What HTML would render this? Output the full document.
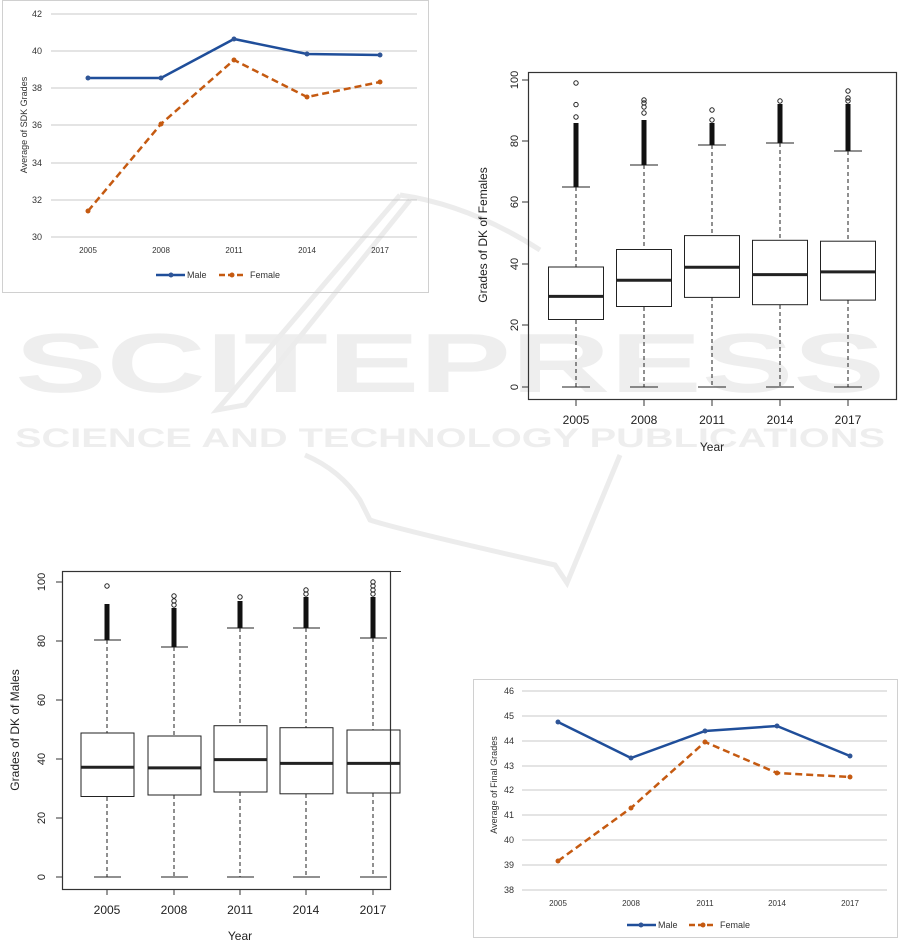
<!DOCTYPE html>
<html><head><meta charset="utf-8"><style>
html,body{margin:0;padding:0;background:#fff;}
svg{display:block;font-family:"Liberation Sans",sans-serif;}
</style></head><body>
<svg width="901" height="945" viewBox="0 0 901 945" xmlns="http://www.w3.org/2000/svg">
<!-- watermark -->
<g fill="#eeeeee" stroke="none">
<text x="15" y="392" font-size="84" font-weight="bold" textLength="870" lengthAdjust="spacingAndGlyphs">SCITEPRESS</text>
<text x="15" y="447" font-size="27" font-weight="bold" textLength="870" lengthAdjust="spacingAndGlyphs">SCIENCE AND TECHNOLOGY PUBLICATIONS</text>
</g>
<g fill="none" stroke="#ececec" stroke-width="5">
<path d="M400 195 L217 410 L245 405 L410 200"/>
<path d="M305 455 Q340 470 360 500 L370 520 Q400 530 555 565 L567 583 L620 455"/>
<path d="M400 195 Q470 205 540 250"/>
</g>

<!-- Chart 1 -->
<rect x="2.5" y="0.5" width="426" height="292" fill="none" stroke="#d0d0d0"/>
<g stroke="#c8c8c8" stroke-width="1">
<line x1="51" x2="417" y1="14" y2="14"/><line x1="51" x2="417" y1="51" y2="51"/><line x1="51" x2="417" y1="88" y2="88"/><line x1="51" x2="417" y1="125" y2="125"/><line x1="51" x2="417" y1="163" y2="163"/><line x1="51" x2="417" y1="200" y2="200"/><line x1="51" x2="417" y1="237" y2="237"/>
</g>
<g font-size="9" fill="#333" text-anchor="end">
<text x="42" y="17">42</text><text x="42" y="54">40</text><text x="42" y="91">38</text><text x="42" y="128">36</text><text x="42" y="166">34</text><text x="42" y="203">32</text><text x="42" y="240">30</text>
</g>
<g font-size="8" fill="#333" text-anchor="middle">
<text x="88" y="253">2005</text><text x="161" y="253">2008</text><text x="234" y="253">2011</text><text x="307" y="253">2014</text><text x="380" y="253">2017</text>
</g>
<text transform="translate(27,125) rotate(-90)" font-size="9" fill="#333" text-anchor="middle">Average of SDK Grades</text>
<polyline points="88,78 161,78 234,39 307,54 380,55" fill="none" stroke="#1f4e9a" stroke-width="2.5"/>
<polyline points="88,211 161,124 234,60 307,97 380,82" fill="none" stroke="#c55a11" stroke-width="2.5" stroke-dasharray="7,4"/>
<g fill="#2f5597"><circle cx="88" cy="78" r="2.5"/><circle cx="161" cy="78" r="2.5"/><circle cx="234" cy="39" r="2.5"/><circle cx="307" cy="54" r="2.5"/><circle cx="380" cy="55" r="2.5"/></g>
<g fill="#c55a11"><circle cx="88" cy="211" r="2.5"/><circle cx="161" cy="124" r="2.5"/><circle cx="234" cy="60" r="2.5"/><circle cx="307" cy="97" r="2.5"/><circle cx="380" cy="82" r="2.5"/></g>
<line x1="156" x2="185" y1="275" y2="275" stroke="#1f4e9a" stroke-width="2.5"/><circle cx="171" cy="275" r="2.5" fill="#2f5597"/>
<text x="187" y="278" font-size="9" fill="#333">Male</text>
<line x1="219" x2="246" y1="275" y2="275" stroke="#c55a11" stroke-width="2.5" stroke-dasharray="6,3"/><circle cx="232" cy="275" r="2.5" fill="#c55a11"/>
<text x="250" y="278" font-size="9" fill="#333">Female</text>

<!-- Chart 2 boxplot females -->
<rect x="528.5" y="72.5" width="368" height="327" fill="none" stroke="#333" stroke-width="1.2"/>
<g stroke="#333" stroke-width="1">
<line x1="522" x2="528" y1="80" y2="80"/><line x1="522" x2="528" y1="141" y2="141"/><line x1="522" x2="528" y1="202" y2="202"/><line x1="522" x2="528" y1="264" y2="264"/><line x1="522" x2="528" y1="325" y2="325"/><line x1="522" x2="528" y1="387" y2="387"/>
<line x1="576" x2="576" y1="400" y2="406"/><line x1="644" x2="644" y1="400" y2="406"/><line x1="712" x2="712" y1="400" y2="406"/><line x1="780" x2="780" y1="400" y2="406"/><line x1="848" x2="848" y1="400" y2="406"/>
</g>
<g font-size="11" fill="#222" text-anchor="middle">
<text transform="translate(518,80) rotate(-90)">100</text><text transform="translate(518,141) rotate(-90)">80</text><text transform="translate(518,202) rotate(-90)">60</text><text transform="translate(518,264) rotate(-90)">40</text><text transform="translate(518,325) rotate(-90)">20</text><text transform="translate(518,387) rotate(-90)">0</text>
<text x="576" y="424" font-size="12">2005</text><text x="644" y="424" font-size="12">2008</text><text x="712" y="424" font-size="12">2011</text><text x="780" y="424" font-size="12">2014</text><text x="848" y="424" font-size="12">2017</text>
<text x="712" y="451" font-size="12">Year</text>
<text transform="translate(487,235) rotate(-90)" font-size="12">Grades of DK of Females</text>
</g>
<g stroke="#222" fill="none" stroke-width="1">
<g stroke-dasharray="4,3"><line x1="576" x2="576" y1="187" y2="267"/><line x1="576" x2="576" y1="320" y2="387"/>
<line x1="644" x2="644" y1="165" y2="250"/><line x1="644" x2="644" y1="307" y2="387"/>
<line x1="712" x2="712" y1="145" y2="236"/><line x1="712" x2="712" y1="297" y2="387"/>
<line x1="780" x2="780" y1="143" y2="240"/><line x1="780" x2="780" y1="305" y2="387"/>
<line x1="848" x2="848" y1="151" y2="241"/><line x1="848" x2="848" y1="300" y2="387"/></g>
<line x1="562" x2="590" y1="187" y2="187"/><line x1="562" x2="590" y1="387" y2="387"/>
<line x1="630" x2="658" y1="165" y2="165"/><line x1="630" x2="658" y1="387" y2="387"/>
<line x1="698" x2="726" y1="145" y2="145"/><line x1="698" x2="726" y1="387" y2="387"/>
<line x1="766" x2="794" y1="143" y2="143"/><line x1="766" x2="794" y1="387" y2="387"/>
<line x1="834" x2="862" y1="151" y2="151"/><line x1="834" x2="862" y1="387" y2="387"/>
<rect x="548.5" y="267" width="55" height="52.5"/><rect x="616.5" y="249.5" width="55" height="57"/><rect x="684.5" y="235.6" width="55" height="61.8"/><rect x="752.5" y="240.3" width="55" height="64.4"/><rect x="820.5" y="241.2" width="55" height="58.9"/>
<g stroke-width="3"><line x1="548.5" x2="603.5" y1="296.4" y2="296.4"/><line x1="616.5" x2="671.5" y1="280.2" y2="280.2"/><line x1="684.5" x2="739.5" y1="267.3" y2="267.3"/><line x1="752.5" x2="807.5" y1="274.6" y2="274.6"/><line x1="820.5" x2="875.5" y1="271.9" y2="271.9"/></g>
<g stroke-width="1"><circle cx="576" cy="117" r="2.2"/><circle cx="576" cy="104.6" r="2.2"/><circle cx="576" cy="83" r="2.2"/>
<circle cx="644" cy="113" r="2.2"/><circle cx="644" cy="107" r="2.2"/><circle cx="644" cy="103" r="2.2"/><circle cx="644" cy="100" r="2.2"/>
<circle cx="712" cy="120" r="2.2"/><circle cx="712" cy="110" r="2.2"/><circle cx="780" cy="101" r="2.2"/>
<circle cx="848" cy="101" r="2.2"/><circle cx="848" cy="98" r="2.2"/><circle cx="848" cy="91" r="2.2"/></g>
</g>
<g fill="#111"><rect x="573.5" y="123" width="5" height="64"/><rect x="641.5" y="120" width="5" height="45"/><rect x="709.5" y="123" width="5" height="22"/><rect x="777.5" y="104" width="5" height="39"/><rect x="845.5" y="104" width="5" height="47"/></g>

<!-- Chart 3 boxplot males -->
<rect x="62.5" y="571.5" width="328" height="318" fill="none" stroke="#333" stroke-width="1.2"/>
<g stroke="#333" stroke-width="1">
<line x1="56" x2="62" y1="582" y2="582"/><line x1="56" x2="62" y1="641" y2="641"/><line x1="56" x2="62" y1="700" y2="700"/><line x1="56" x2="62" y1="759" y2="759"/><line x1="56" x2="62" y1="818" y2="818"/><line x1="56" x2="62" y1="877" y2="877"/>
<line x1="107" x2="107" y1="889" y2="895"/><line x1="174" x2="174" y1="889" y2="895"/><line x1="240" x2="240" y1="889" y2="895"/><line x1="306" x2="306" y1="889" y2="895"/><line x1="373" x2="373" y1="889" y2="895"/>
</g>
<g font-size="11" fill="#222" text-anchor="middle">
<text transform="translate(45,582) rotate(-90)">100</text><text transform="translate(45,641) rotate(-90)">80</text><text transform="translate(45,700) rotate(-90)">60</text><text transform="translate(45,759) rotate(-90)">40</text><text transform="translate(45,818) rotate(-90)">20</text><text transform="translate(45,877) rotate(-90)">0</text>
<text x="107" y="914" font-size="12">2005</text><text x="174" y="914" font-size="12">2008</text><text x="240" y="914" font-size="12">2011</text><text x="306" y="914" font-size="12">2014</text><text x="373" y="914" font-size="12">2017</text>
<text x="240" y="940" font-size="12">Year</text>
<text transform="translate(19,730) rotate(-90)" font-size="12">Grades of DK of Males</text>
</g>
<g stroke="#222" fill="none" stroke-width="1">
<g stroke-dasharray="4,3"><line x1="107" x2="107" y1="640" y2="733"/><line x1="107" x2="107" y1="797" y2="877"/>
<line x1="174" x2="174" y1="647" y2="736"/><line x1="174" x2="174" y1="795" y2="877"/>
<line x1="240" x2="240" y1="628" y2="726"/><line x1="240" x2="240" y1="792" y2="877"/>
<line x1="306" x2="306" y1="628" y2="728"/><line x1="306" x2="306" y1="794" y2="877"/>
<line x1="373" x2="373" y1="638" y2="730"/><line x1="373" x2="373" y1="793" y2="877"/></g>
<line x1="94" x2="121" y1="640" y2="640"/><line x1="94" x2="121" y1="877" y2="877"/>
<line x1="161" x2="188" y1="647" y2="647"/><line x1="161" x2="188" y1="877" y2="877"/>
<line x1="227" x2="254" y1="628" y2="628"/><line x1="227" x2="254" y1="877" y2="877"/>
<line x1="293" x2="320" y1="628" y2="628"/><line x1="293" x2="320" y1="877" y2="877"/>
<line x1="360" x2="387" y1="638" y2="638"/><line x1="360" x2="387" y1="877" y2="877"/>
<rect x="81" y="733" width="53" height="63.5"/><rect x="148" y="736" width="53" height="59"/><rect x="214" y="725.7" width="53" height="66.3"/><rect x="280" y="727.7" width="53" height="66.1"/><rect x="347" y="730" width="53" height="63"/>
<g stroke-width="3"><line x1="81" x2="134" y1="767.3" y2="767.3"/><line x1="148" x2="201" y1="767.9" y2="767.9"/><line x1="214" x2="267" y1="759.6" y2="759.6"/><line x1="280" x2="333" y1="763.4" y2="763.4"/><line x1="347" x2="400" y1="763.4" y2="763.4"/></g>
<g stroke-width="1"><circle cx="107" cy="586" r="2.2"/><circle cx="174" cy="596" r="2.2"/><circle cx="174" cy="601" r="2.2"/><circle cx="174" cy="605" r="2.2"/>
<circle cx="240" cy="597" r="2.2"/><circle cx="306" cy="590" r="2.2"/><circle cx="306" cy="594" r="2.2"/>
<circle cx="373" cy="582" r="2.2"/><circle cx="373" cy="586" r="2.2"/><circle cx="373" cy="590" r="2.2"/><circle cx="373" cy="594" r="2.2"/></g>
</g>
<g fill="#111"><rect x="104.5" y="604" width="5" height="36"/><rect x="171.5" y="608" width="5" height="39"/><rect x="237.5" y="601" width="5" height="27"/><rect x="303.5" y="597" width="5" height="31"/><rect x="370.5" y="597" width="5" height="41"/></g>
<rect x="390" y="571" width="11" height="1" fill="#333"/>

<!-- Chart 4 -->
<rect x="473.5" y="679.5" width="424" height="258" fill="none" stroke="#d0d0d0"/>
<g stroke="#c8c8c8" stroke-width="1">
<line x1="522" x2="887" y1="691" y2="691"/><line x1="522" x2="887" y1="716" y2="716"/><line x1="522" x2="887" y1="741" y2="741"/><line x1="522" x2="887" y1="766" y2="766"/><line x1="522" x2="887" y1="790" y2="790"/><line x1="522" x2="887" y1="815" y2="815"/><line x1="522" x2="887" y1="840" y2="840"/><line x1="522" x2="887" y1="865" y2="865"/><line x1="522" x2="887" y1="890" y2="890"/>
</g>
<g font-size="9" fill="#333" text-anchor="end">
<text x="514" y="694">46</text><text x="514" y="719">45</text><text x="514" y="744">44</text><text x="514" y="769">43</text><text x="514" y="793">42</text><text x="514" y="818">41</text><text x="514" y="843">40</text><text x="514" y="868">39</text><text x="514" y="893">38</text>
</g>
<g font-size="8" fill="#333" text-anchor="middle">
<text x="558" y="906">2005</text><text x="631" y="906">2008</text><text x="705" y="906">2011</text><text x="777" y="906">2014</text><text x="850" y="906">2017</text>
</g>
<text transform="translate(497,785) rotate(-90)" font-size="9" fill="#333" text-anchor="middle">Average of Final Grades</text>
<polyline points="558,722 631,758 705,731 777,726 850,756" fill="none" stroke="#1f4e9a" stroke-width="2.5"/>
<polyline points="558,861 631,808 705,742 777,773 850,777" fill="none" stroke="#c55a11" stroke-width="2.5" stroke-dasharray="7,4"/>
<g fill="#2f5597"><circle cx="558" cy="722" r="2.5"/><circle cx="631" cy="758" r="2.5"/><circle cx="705" cy="731" r="2.5"/><circle cx="777" cy="726" r="2.5"/><circle cx="850" cy="756" r="2.5"/></g>
<g fill="#c55a11"><circle cx="558" cy="861" r="2.5"/><circle cx="631" cy="808" r="2.5"/><circle cx="705" cy="742" r="2.5"/><circle cx="777" cy="773" r="2.5"/><circle cx="850" cy="777" r="2.5"/></g>
<line x1="627" x2="656" y1="925" y2="925" stroke="#1f4e9a" stroke-width="2.5"/><circle cx="641" cy="925" r="2.5" fill="#2f5597"/>
<text x="658" y="928" font-size="9" fill="#333">Male</text>
<line x1="689" x2="716" y1="925" y2="925" stroke="#c55a11" stroke-width="2.5" stroke-dasharray="6,3"/><circle cx="703" cy="925" r="2.5" fill="#c55a11"/>
<text x="720" y="928" font-size="9" fill="#333">Female</text>
</svg>
</body></html>
